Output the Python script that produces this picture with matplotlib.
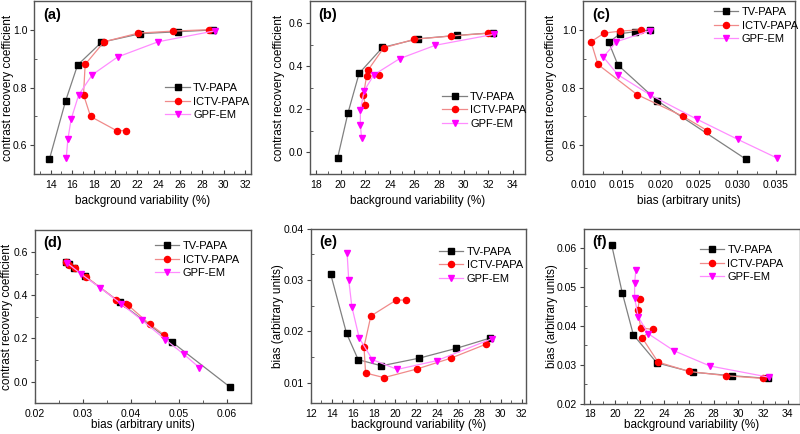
import numpy as np
import matplotlib
matplotlib.use('Agg')
import matplotlib.pyplot as plt
from matplotlib.ticker import MultipleLocator, FormatStrFormatter

plt.rcParams['font.family'] = ['Liberation Sans', 'DejaVu Sans']

# set 1 -> panels (a), (c), (e)
tv1_bv = [13.9, 15.4, 16.5, 18.7, 22.3, 25.8, 29.0]
tv1_crc = [0.552, 0.755, 0.879, 0.958, 0.988, 0.995, 1.001]
tv1_bias = [0.0311, 0.0196, 0.0145, 0.0133, 0.0148, 0.0167, 0.0187]

ictv1_bv = [28.6, 25.3, 22.1, 18.95, 17.2, 17.05, 17.7, 20.1, 21.0]
ictv1_crc = [1.002, 0.997, 0.990, 0.960, 0.881, 0.776, 0.700, 0.651, 0.651]
ictv1_bias = [0.0175, 0.0148, 0.0127, 0.0110, 0.0119, 0.0170, 0.0230, 0.0261, 0.0261]

gpf1_bv = [15.45, 15.6, 15.9, 16.6, 17.85, 20.2, 23.95, 29.2]
gpf1_crc = [0.555, 0.620, 0.690, 0.775, 0.845, 0.907, 0.960, 0.998]
gpf1_bias = [0.0352, 0.0301, 0.0248, 0.0187, 0.0145, 0.0126, 0.0143, 0.0186]

# set 2 -> panels (b), (d), (f)
tv2_bv = [19.75, 20.6, 21.5, 23.4, 26.3, 29.5, 32.4]
tv2_crc = [-0.025, 0.185, 0.367, 0.487, 0.527, 0.543, 0.555]
tv2_bias = [0.0607, 0.0485, 0.0377, 0.0305, 0.0281, 0.0272, 0.0265]

ictv2_bv = [32.0, 29.0, 26.0, 23.5, 22.2, 23.1, 22.1, 21.85, 22.0]
ictv2_crc = [0.553, 0.540, 0.525, 0.485, 0.380, 0.357, 0.353, 0.265, 0.218]
ictv2_bias = [0.0265, 0.0272, 0.0283, 0.0307, 0.0370, 0.0391, 0.0395, 0.0440, 0.0469]

gpf2_bv = [32.5, 27.7, 24.8, 22.7, 21.9, 21.6, 21.6, 21.7]
gpf2_crc = [0.548, 0.497, 0.435, 0.360, 0.285, 0.195, 0.128, 0.065]
gpf2_bias = [0.0268, 0.0297, 0.0336, 0.0380, 0.0423, 0.0472, 0.0510, 0.0543]

labels = ['TV-PAPA', 'ICTV-PAPA', 'GPF-EM']
styles = [
    dict(color='#808080', marker='s', mfc='black', mec='black', ms=3.8),
    dict(color='#f08a8a', marker='o', mfc='red', mec='red', ms=4.4),
    dict(color='#ff8cff', marker='v', mfc='#ff00ff', mec='#ff00ff', ms=5.0),
]

W, H = 800, 434
fig = plt.figure(figsize=(8, 4.34), dpi=100)


def make_ax(left, right, top, bottom):
    return fig.add_axes([left / W, 1 - bottom / H, (right - left) / W, (bottom - top) / H])


bv_label = 'background variability (%)'
bias_label = 'bias (arbitrary units)'
crc_label = 'contrast recovery coefficient'

panels = [
    # tag, box, x-data, y-data, xlim, ylim, xmajor, xminor, ymajor, yminor, xfmt, yfmt,
    # xlabel, ylabel, legend anchor, ylabel x (px), xlabel y (px)
    ('(a)', (34.3, 250.7, 1.5, 174), (tv1_bv, ictv1_bv, gpf1_bv), (tv1_crc, ictv1_crc, gpf1_crc),
     (12.5, 32.5), (0.5, 1.1), 2, 1, 0.2, 0.1, '%d', '%.1f', bv_label, crc_label, (0.58, 0.42), 8, 201),
    ('(b)', (310, 525, 1.5, 174), (tv2_bv, ictv2_bv, gpf2_bv), (tv2_crc, ictv2_crc, gpf2_crc),
     (17.5, 35), (-0.1, 0.7), 2, 1, 0.2, 0.1, '%d', '%.1f', bv_label, crc_label, (0.59, 0.37), 279, 201),
    ('(c)', (583.3, 795, 1.5, 174), (tv1_bias, ictv1_bias, gpf1_bias), (tv1_crc, ictv1_crc, gpf1_crc),
     (0.010, 0.0375), (0.5, 1.1), 0.005, 0.0025, 0.2, 0.1, '%.3f', '%.1f', bias_label, crc_label, (0.59, 0.86), 551, 201),
    ('(d)', (34.7, 250.7, 230.3, 403.3), (tv2_bias, ictv2_bias, gpf2_bias), (tv2_crc, ictv2_crc, gpf2_crc),
     (0.02, 0.065), (-0.1, 0.7), 0.01, 0.005, 0.2, 0.1, '%.2f', '%.1f', bias_label, crc_label, (0.53, 0.83), 7, 425),
    ('(e)', (310.7, 526, 228.7, 403.3), (tv1_bv, ictv1_bv, gpf1_bv), (tv1_bias, ictv1_bias, gpf1_bias),
     (12, 32.4), (0.006, 0.04), 2, 1, 0.01, 0.005, '%d', '%.2f', bv_label, bias_label, (0.57, 0.79), 278, 425),
    ('(f)', (584, 800, 228.7, 403.7), (tv2_bv, ictv2_bv, gpf2_bv), (tv2_bias, ictv2_bias, gpf2_bias),
     (17.5, 35), (0.02, 0.065), 2, 1, 0.01, 0.005, '%d', '%.2f', bv_label, bias_label, (0.51, 0.80), 552, 425),
]

for (tag, box, xs, ys, xlim, ylim, xmaj, xmin, ymaj, ymin, xfmt, yfmt,
     xlab, ylab, anchor, ylab_px, xlab_px) in panels:
    ax = make_ax(*box)
    for x, y, lab, st in zip(xs, ys, labels, styles):
        ax.plot(x, y, lw=0.9, label=lab, **st)
    ax.set_xlim(*xlim)
    ax.set_ylim(*ylim)
    ax.xaxis.set_major_locator(MultipleLocator(xmaj))
    ax.xaxis.set_minor_locator(MultipleLocator(xmin))
    ax.yaxis.set_major_locator(MultipleLocator(ymaj))
    ax.yaxis.set_minor_locator(MultipleLocator(ymin))
    ax.xaxis.set_major_formatter(FormatStrFormatter(xfmt))
    ax.yaxis.set_major_formatter(FormatStrFormatter(yfmt))
    ax.tick_params(axis='x', which='major', direction='in', length=3, labelsize=7.5, pad=4, color='#444444')
    ax.tick_params(axis='x', which='minor', direction='in', length=2, color='#444444')
    ax.tick_params(axis='y', which='major', direction='out', length=3, labelsize=7.5, pad=2, color='#444444')
    ax.tick_params(axis='y', which='minor', direction='in', length=2, color='#444444')
    for sp in ax.spines.values():
        sp.set_color('#555555')
        sp.set_linewidth(1.0)
    left, right, top, bottom = box
    ax.set_xlabel(xlab, fontsize=8.5, va='center')
    ax.set_ylabel(ylab, fontsize=8.5, va='center')
    ax.xaxis.set_label_coords(0.5, -(xlab_px - bottom) / (bottom - top))
    ax.yaxis.set_label_coords((ylab_px - left) / (right - left), 0.5)
    ax.text(0.04, 0.965, tag, transform=ax.transAxes, ha='left', va='top',
            fontsize=10.5, fontweight='bold')
    ax.legend(loc='center left', bbox_to_anchor=anchor, frameon=False, fontsize=8,
              handlelength=2.2, handletextpad=0.3, labelspacing=0.3, borderpad=0)

fig.savefig('out.png', dpi=100)
